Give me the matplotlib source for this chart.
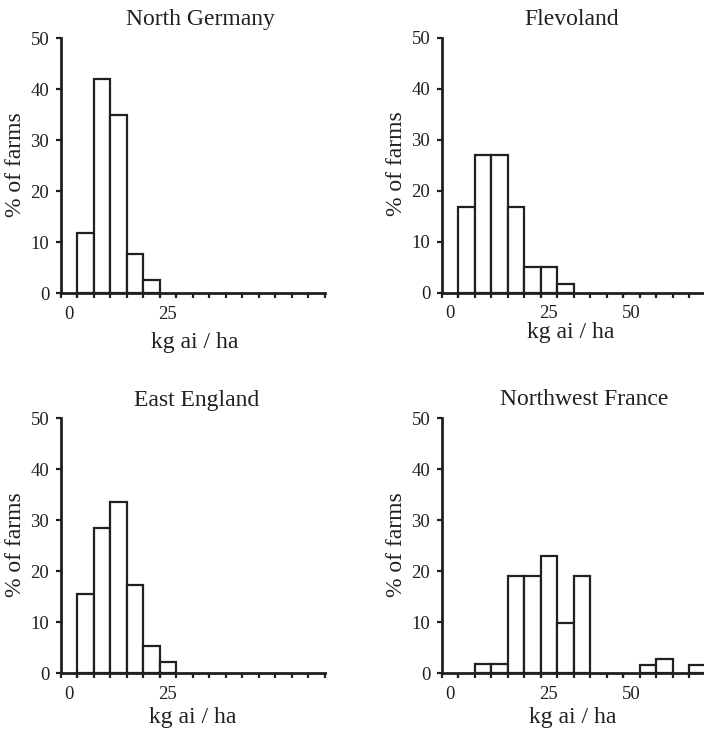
import numpy as np
import matplotlib
matplotlib.use('Agg')
from matplotlib import pyplot as plt
from matplotlib.transforms import ScaledTranslation

plt.rcParams['font.family'] = ['Liberation Serif', 'DejaVu Serif']

ink = '#231f20'

# bins of 5 kg ai/ha, first bin starts at 0
bin_width = 5
regions = ['North Germany', 'Flevoland', 'East England', 'Northwest France']
bin_starts = np.arange(0, 75, bin_width)

north_germany = [11.8, 42.1, 35.0, 7.7, 2.6]
flevoland = [16.9, 27.0, 27.0, 16.9, 5.0, 5.0, 1.8]
east_england = [15.5, 28.4, 33.6, 17.2, 5.2, 2.2]
northwest_france = [0, 1.8, 1.8, 19.0, 19.0, 23.0, 9.9, 19.0, 0, 0, 0, 1.6, 2.7, 0, 1.6]

x_ticks = {'North Germany': [0, 25], 'Flevoland': [0, 25, 50],
           'East England': [0, 25], 'Northwest France': [0, 25, 50]}
y_ticks = [0, 10, 20, 30, 40, 50]

data = [north_germany, flevoland, east_england, northwest_france]

fig = plt.figure(figsize=(7.04, 7.29), dpi=100)

# left, bottom, width, height in figure fraction
boxes = [[0.0866, 0.5977, 0.375, 0.3498],
         [0.6278, 0.5985, 0.375, 0.3498],
         [0.0866, 0.0768, 0.375, 0.3498],
         [0.6278, 0.0768, 0.375, 0.3498]]
title_x = [0.53, 0.49, 0.515, 0.537]
title_y = [1.051, 1.051, 1.048, 1.052]
xlab_x = [0.505, 0.489, 0.498, 0.497]
xlab_y = [-0.216, -0.176, -0.197, -0.195]

for i, name in enumerate(regions):
    ax = fig.add_axes(boxes[i])
    vals = np.array(data[i], dtype=float)
    starts = bin_starts[:len(vals)]
    keep = vals > 0
    ax.bar(starts[keep], vals[keep], width=bin_width, align='edge',
           facecolor='white', edgecolor=ink, linewidth=1.6, zorder=2)
    ax.set_xlim(-5, 75)
    ax.set_ylim(0, 50)
    for s in ['top', 'right']:
        ax.spines[s].set_visible(False)
    for s in ['left', 'bottom']:
        ax.spines[s].set_linewidth(2.0)
        ax.spines[s].set_color(ink)
        ax.spines[s].set_zorder(3)

    ax.set_yticks(y_ticks)
    ax.set_xticks(x_ticks[name])
    ax.set_xticks(np.arange(-5, 80, 5), minor=True)
    ax.xaxis.remove_overlapping_locs = False
    ax.tick_params(axis='x', which='both', direction='out', length=3.5,
                   width=1.6, color=ink, pad=5.5, labelsize=13.5, labelcolor=ink)
    ax.tick_params(axis='y', direction='out', length=3.5, width=1.6,
                   color=ink, pad=5, labelsize=13.5, labelcolor=ink)
    for lab in ax.get_xticklabels():
        dx = -5.8 if lab.get_text() == '0' else 5.6
        lab.set_transform(lab.get_transform() + ScaledTranslation(dx / 72, 0, fig.dpi_scale_trans))

    ax.text(title_x[i], title_y[i], name, transform=ax.transAxes,
            ha='center', va='baseline', fontsize=17, color=ink)
    ax.text(xlab_x[i], xlab_y[i], 'kg ai / ha', transform=ax.transAxes,
            ha='center', va='baseline', fontsize=17, color=ink)
    ax.text(-0.171, 0.505, '% of farms', transform=ax.transAxes, rotation=90,
            ha='center', va='center', fontsize=17, color=ink)

fig.savefig('out.png', dpi=100)
